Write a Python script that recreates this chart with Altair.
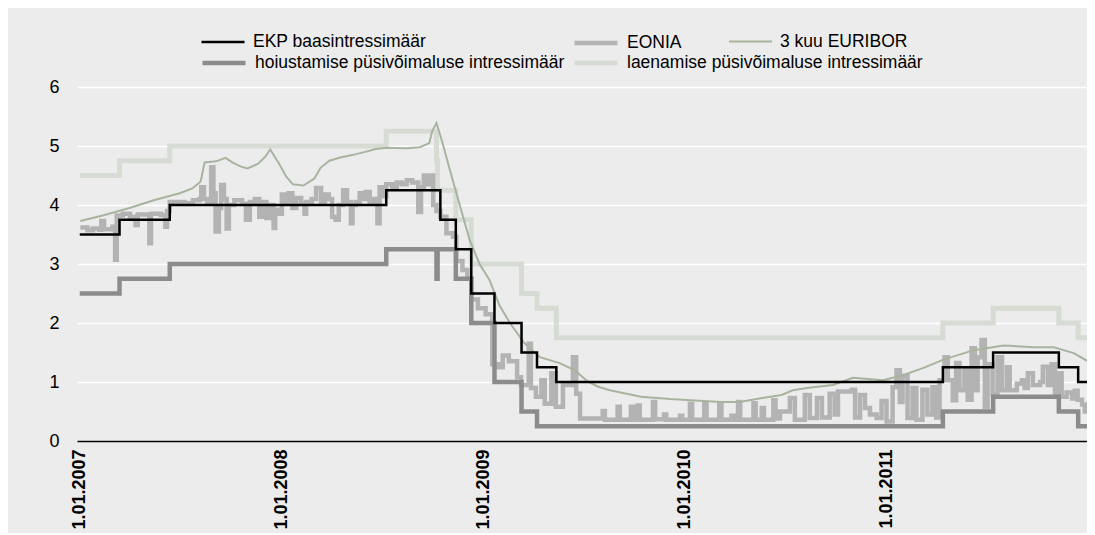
import altair as alt
import pandas as pd

FONT = "Liberation Sans, Arial, Helvetica, sans-serif"

# ---- data ----
ekp_dates = ["2007-01-01", "2007-03-14", "2007-06-13", "2008-07-09", "2008-10-15", "2008-11-12",
             "2008-12-10", "2009-01-21", "2009-03-11", "2009-04-08", "2009-05-13", "2011-04-13",
             "2011-07-13", "2011-11-09", "2011-12-14", "2011-12-30"]
ekp_values = [3.50, 3.75, 4.00, 4.25, 3.75, 3.25, 2.50, 2.00, 1.50, 1.25, 1.00, 1.25, 1.50, 1.25, 1.00, 1.00]

hoius_dates = ["2007-01-01", "2007-03-14", "2007-06-13", "2008-07-09", "2008-10-08", "2008-10-10",
               "2008-11-12", "2008-12-10", "2009-01-21", "2009-03-11", "2009-04-08", "2011-04-13",
               "2011-07-13", "2011-11-09", "2011-12-14", "2011-12-30"]
hoius_values = [2.50, 2.75, 3.00, 3.25, 2.75, 3.25, 2.75, 2.00, 1.00, 0.50, 0.25, 0.50, 0.75, 0.50, 0.25, 0.25]

laen_dates = ["2007-01-01", "2007-03-14", "2007-06-13", "2008-07-09", "2008-10-08", "2008-10-10",
              "2008-11-12", "2008-12-10", "2009-03-11", "2009-04-08", "2009-05-13", "2011-04-13",
              "2011-07-13", "2011-11-09", "2011-12-14", "2011-12-30"]
laen_values = [4.50, 4.75, 5.00, 5.25, 4.75, 4.25, 3.75, 3.00, 2.50, 2.25, 1.75, 2.00, 2.25, 2.00, 1.75, 1.75]

euribor_dates = ["2007-01-02", "2007-02-15", "2007-04-01", "2007-05-15", "2007-07-01", "2007-07-24",
                 "2007-08-08", "2007-08-15", "2007-09-05", "2007-09-22", "2007-10-05", "2007-10-20",
                 "2007-11-01", "2007-11-20", "2007-12-03", "2007-12-12", "2007-12-28", "2008-01-10",
                 "2008-01-22", "2008-02-10", "2008-03-01", "2008-03-12", "2008-03-28", "2008-04-15",
                 "2008-05-10", "2008-06-01", "2008-06-20", "2008-07-10", "2008-08-15", "2008-09-08",
                 "2008-09-25", "2008-09-30", "2008-10-08", "2008-10-19", "2008-11-01", "2008-11-13",
                 "2008-12-07", "2008-12-25", "2009-01-12", "2009-01-30", "2009-02-18", "2009-03-16",
                 "2009-04-13", "2009-05-19", "2009-06-15", "2009-07-10", "2009-07-28", "2009-08-18",
                 "2009-10-13", "2009-12-05", "2010-03-07", "2010-04-10", "2010-05-21", "2010-06-25",
                 "2010-07-15", "2010-08-10", "2010-09-26", "2010-11-01", "2010-12-26", "2011-02-01",
                 "2011-03-09", "2011-04-14", "2011-06-08", "2011-08-01", "2011-09-25", "2011-10-31",
                 "2011-12-06", "2011-12-30"]
euribor_values = [3.73, 3.83, 3.95, 4.08, 4.20, 4.28,
                  4.40, 4.72, 4.74, 4.80, 4.72, 4.65,
                  4.62, 4.70, 4.82, 4.94, 4.70, 4.48,
                  4.35, 4.33, 4.45, 4.63, 4.75, 4.80,
                  4.85, 4.90, 4.95, 4.97, 4.96, 4.98,
                  5.05, 5.25, 5.39, 5.05, 4.60, 4.20,
                  3.41, 3.00, 2.73, 2.30, 2.00, 1.66,
                  1.42, 1.32, 1.20, 1.00, 0.92, 0.86,
                  0.75, 0.71, 0.66, 0.66, 0.73, 0.78,
                  0.86, 0.90, 0.95, 1.07, 1.03, 1.12,
                  1.24, 1.38, 1.54, 1.62, 1.59, 1.59,
                  1.49, 1.36]

eonia_dates = [
    "2007-01-02", "2007-01-15", "2007-01-25", "2007-02-05", "2007-02-09", "2007-02-14", "2007-03-01",
    "2007-03-06", "2007-03-09", "2007-03-20", "2007-04-02", "2007-04-12", "2007-04-16", "2007-05-07",
    "2007-05-10", "2007-05-28", "2007-06-05", "2007-06-08", "2007-06-13", "2007-07-10", "2007-07-25",
    "2007-08-06", "2007-08-09", "2007-08-14", "2007-08-20", "2007-08-27", "2007-08-31", "2007-09-04",
    "2007-09-10", "2007-09-14", "2007-09-19", "2007-09-24", "2007-09-28", "2007-10-08", "2007-10-22",
    "2007-10-29", "2007-11-05", "2007-11-14", "2007-11-22", "2007-11-28", "2007-12-05", "2007-12-10",
    "2007-12-18", "2007-12-21", "2007-12-28", "2008-01-02", "2008-01-09", "2008-01-14", "2008-01-21",
    "2008-01-28", "2008-02-06", "2008-02-12", "2008-02-15", "2008-02-25", "2008-03-04", "2008-03-13",
    "2008-03-20", "2008-03-27", "2008-04-02", "2008-04-08", "2008-04-14", "2008-04-22", "2008-04-29",
    "2008-05-06", "2008-05-09", "2008-05-15", "2008-05-22", "2008-05-30", "2008-06-02", "2008-06-09",
    "2008-06-17", "2008-06-23", "2008-06-27", "2008-07-04", "2008-07-09", "2008-07-20", "2008-07-28",
    "2008-08-06", "2008-08-15", "2008-08-25", "2008-09-05", "2008-09-10", "2008-09-15", "2008-09-22",
    "2008-09-29", "2008-10-02", "2008-10-08", "2008-10-15", "2008-10-26", "2008-11-07", "2008-11-13",
    "2008-11-24", "2008-12-03", "2008-12-10", "2008-12-22", "2009-01-05", "2009-01-17", "2009-01-28",
    "2009-02-05", "2009-02-16", "2009-03-03", "2009-03-10", "2009-03-24", "2009-03-28", "2009-04-06",
    "2009-04-16", "2009-04-22", "2009-05-04", "2009-05-12", "2009-05-25", "2009-06-12", "2009-06-18",
    "2009-06-25",
    "2009-08-05", "2009-08-09", "2009-09-01", "2009-09-05", "2009-09-25", "2009-09-29", "2009-10-07",
    "2009-10-11", "2009-11-04", "2009-11-08", "2009-11-24", "2009-11-28", "2009-12-23", "2009-12-27",
    "2010-01-10", "2010-01-14", "2010-02-05", "2010-02-09", "2010-03-04", "2010-03-08", "2010-03-26",
    "2010-03-30", "2010-04-07", "2010-04-11", "2010-05-05", "2010-05-09", "2010-05-20", "2010-05-24",
    "2010-06-10", "2010-06-14", "2010-06-22", "2010-07-10", "2010-07-19", "2010-08-06", "2010-08-15",
    "2010-08-28", "2010-09-06", "2010-09-20", "2010-09-29", "2010-10-05", "2010-10-30", "2010-11-05",
    "2010-11-14", "2010-11-23", "2010-12-02", "2010-12-14", "2010-12-23", "2011-01-01", "2011-01-12",
    "2011-01-19", "2011-01-25", "2011-01-30", "2011-02-08", "2011-02-17", "2011-02-24", "2011-03-07",
    "2011-03-16", "2011-03-25", "2011-04-01", "2011-04-07", "2011-04-16", "2011-04-22", "2011-05-01",
    "2011-05-07", "2011-05-13", "2011-05-22", "2011-05-28", "2011-06-04", "2011-06-10", "2011-06-15",
    "2011-06-22", "2011-06-28", "2011-07-03", "2011-07-12", "2011-07-21", "2011-07-29", "2011-08-07",
    "2011-08-12", "2011-08-25", "2011-09-03", "2011-09-08", "2011-09-14", "2011-09-23", "2011-10-06",
    "2011-10-11", "2011-10-20", "2011-10-27", "2011-11-02", "2011-11-07", "2011-11-14", "2011-11-23",
    "2011-12-03", "2011-12-08", "2011-12-13", "2011-12-21", "2011-12-26", "2011-12-30"]
eonia_values = [
    3.62, 3.57, 3.60, 3.58, 3.73, 3.59, 3.63,
    3.07, 3.82, 3.85, 3.80, 3.66, 3.84, 3.35,
    3.85, 3.83, 3.63, 3.90, 4.05, 4.03, 4.08,
    4.10, 4.30, 4.10, 4.05, 4.64, 4.20, 3.55,
    3.95, 4.34, 4.10, 3.60, 4.00, 4.08, 4.02,
    3.75, 4.05, 4.10, 3.80, 4.05, 3.78, 4.00,
    3.61, 3.92, 3.85, 4.18, 4.05, 4.20, 3.95,
    4.12, 4.02, 3.85, 4.05, 4.10, 4.29, 4.05,
    4.18, 4.10, 3.80, 3.75, 4.00, 4.25, 4.05,
    3.69, 4.00, 4.05, 4.20, 4.10, 4.22, 4.05,
    4.10, 3.69, 4.30, 4.15, 4.35, 4.30, 4.38,
    4.35, 4.42, 4.38, 3.88, 4.30, 4.50, 4.35,
    4.50, 4.00, 3.90, 3.80, 3.52, 3.46, 3.05,
    2.90, 2.75, 2.40, 2.25, 2.15, 1.30, 1.25,
    1.45, 1.35, 1.08, 0.95, 1.65, 0.90, 0.75,
    1.03, 0.63, 1.15, 0.58, 0.95, 1.42, 0.80,
    0.38,
    0.51, 0.36, 0.58, 0.36, 0.58, 0.36, 0.60,
    0.36, 0.66, 0.37, 0.45, 0.36, 0.43, 0.36,
    0.63, 0.36, 0.64, 0.36, 0.63, 0.36, 0.43,
    0.36, 0.66, 0.36, 0.64, 0.36, 0.56, 0.36,
    0.69, 0.38, 0.50, 0.73, 0.36, 0.78, 0.39,
    0.73, 0.40, 0.80, 0.45, 0.84, 0.87, 0.40,
    0.78, 0.56, 0.45, 0.39, 0.68, 0.33, 0.91,
    1.20, 0.66, 1.10, 0.39, 0.90, 0.36, 0.87,
    0.45, 0.91, 0.40, 1.03, 1.42, 1.03, 0.69,
    1.32, 0.86, 1.20, 0.70, 1.57, 0.86, 1.42,
    1.71, 0.58, 1.30, 0.80, 1.42, 0.86, 1.25,
    0.86, 0.97, 1.03, 0.90, 1.15, 0.95, 1.00,
    1.26, 0.95, 1.30, 0.80, 1.15, 0.75, 0.82,
    0.72, 0.85, 0.70, 0.62, 0.50, 0.55]

year_ticks = [2007, 2008, 2009, 2010, 2011]
y_ticks = [0, 1, 2, 3, 4, 5, 6]

# ---- chart ----
x_enc = alt.X(
    "date:T",
    title=None,
    scale=alt.Scale(type="utc", domain=[alt.DateTime(year=2006, month=12, date=27, utc=True),
                                        alt.DateTime(year=2011, month=12, date=30, utc=True)]),
    axis=alt.Axis(values=[alt.DateTime(year=y, month=1, date=1, utc=True) for y in year_ticks],
                  labelExpr="utcFormat(datum.value, '%-d.%m.%Y')", labelAngle=270, labelFlush=False,
                  labelFont=FONT, labelFontSize=18, labelFontWeight="bold", labelColor="black",
                  labelPadding=8, ticks=False, grid=False, domain=True, domainColor="black",
                  domainWidth=1.5),
)
y_enc = alt.Y(
    "value:Q",
    title=None,
    scale=alt.Scale(domain=[0, 6], nice=False),
    axis=alt.Axis(values=y_ticks, grid=True, gridColor="white", gridWidth=1.5, domain=False,
                  ticks=False, labelFont=FONT, labelFontSize=18, labelColor="black",
                  labelPadding=18),
)


def layer(dates, values, name, color, width, interp, lx, ly, sw):
    df = pd.DataFrame({"date": dates, "value": values, "series": name})
    return alt.Chart(df).mark_line(
        interpolate=interp, strokeWidth=width, strokeJoin="miter"
    ).encode(
        x=x_enc,
        y=y_enc,
        color=alt.Color(
            "series:N",
            scale=alt.Scale(domain=[name], range=[color]),
            legend=alt.Legend(title=None, orient="none", legendX=lx, legendY=ly,
                              symbolStrokeWidth=sw),
        ),
    )


ROW1 = -68
ROW2 = -48

laen = layer(laen_dates, laen_values, "laenamise püsivõimaluse intressimäär", "#d6dcd3", 5,
             "step-after", 495, ROW2, 4.5)
eonia = layer(eonia_dates, eonia_values, "EONIA", "#b3b3b3", 4.5, "step-after", 495, ROW1, 4.5)
hoius = layer(hoius_dates, hoius_values, "hoiustamise püsivõimaluse intressimäär", "#8c8c8c", 4.5,
              "step-after", 123, ROW2, 4.5)
euribor = layer(euribor_dates, euribor_values, "3 kuu EURIBOR", "#a7b49f", 2, "linear", 651, ROW1, 2)
ekp = layer(ekp_dates, ekp_values, "EKP baasintressimäär", "#000000", 2.5, "step-after", 123, ROW1, 2.5)

chart = alt.layer(laen, eonia, hoius, euribor, ekp).resolve_scale(
    color="independent"
).properties(
    width=1010,
    height=354,
    autosize=alt.AutoSizeParams(type="none"),
    padding={"left": 69, "top": 79, "right": 0, "bottom": 92},
).configure(
    background="#ececec"
).configure_view(
    stroke="transparent"
).configure_legend(
    symbolType="stroke",
    symbolSize=1849,
    labelFont=FONT,
    labelFontSize=17.5,
    labelColor="black",
    labelOffset=7,
    padding=0,
    labelLimit=600,
)

chart.save("out.html", embed_options={"renderer": "svg", "actions": False})
